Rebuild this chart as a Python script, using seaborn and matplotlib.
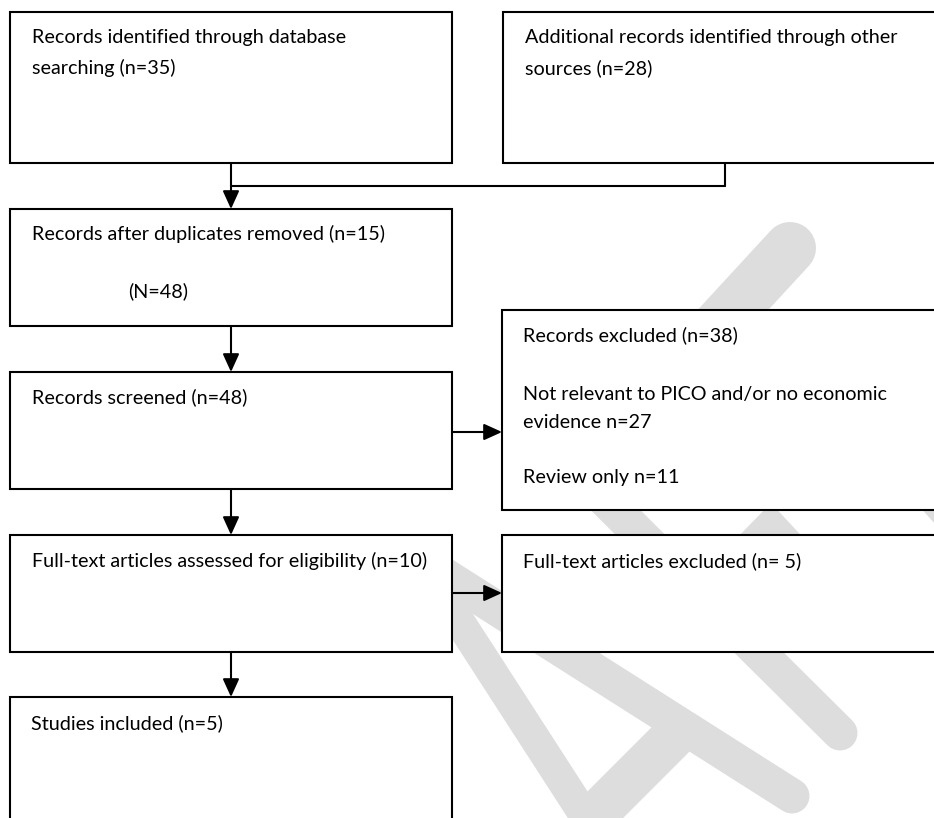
import matplotlib
matplotlib.use("Agg")
import matplotlib.pyplot as plt
import seaborn as sns
import pandas as pd
from matplotlib.patches import Rectangle, Polygon

# record counts at each stage of the review
n_database = 35
n_other = 28
n_dedup = 15
n_dedup_total = 48
n_screened = 48
n_excluded = 38
n_not_relevant = 27
n_review_only = 11
n_fulltext = 10
n_fulltext_excluded = 5
n_included = 5

box_names = ["database", "other", "dedup", "screened", "excluded",
             "fulltext", "ft_excluded", "included"]
box_lines = {
    "database": ["Records identified through database", f"searching (n={n_database})"],
    "other": ["Additional records identified through other", f"sources (n={n_other})"],
    "dedup": [f"Records after duplicates removed (n={n_dedup})", f"(N={n_dedup_total})"],
    "screened": [f"Records screened (n={n_screened})"],
    "excluded": [f"Records excluded (n={n_excluded})",
                 "Not relevant to PICO and/or no economic",
                 f"evidence n={n_not_relevant}",
                 f"Review only n={n_review_only}"],
    "fulltext": [f"Full-text articles assessed for eligibility (n={n_fulltext})"],
    "ft_excluded": [f"Full-text articles excluded (n= {n_fulltext_excluded})"],
    "included": [f"Studies included (n={n_included})"],
}

# layout in pixel units (x0, y0, x1, y1), y grows downwards
W, H = 934, 818
boxes = {
    "database": (10, 12, 452, 163),
    "other": (503, 12, 940, 163),
    "dedup": (10, 209, 452, 326),
    "screened": (10, 372, 452, 489),
    "excluded": (502, 310, 940, 510),
    "fulltext": (10, 535, 452, 652),
    "ft_excluded": (502, 535, 940, 652),
    "included": (10, 697, 452, 840),
}
# (x offset, baseline offset from box top) for each text line
line_pos = {
    "database": [(22, 31), (22, 62)],
    "other": [(22, 31), (22, 62)],
    "dedup": [(22, 31), (118, 88)],
    "screened": [(22, 31)],
    "excluded": [(21, 31), (21, 90), (21, 118), (21, 173)],
    "fulltext": [(22, 32)],
    "ft_excluded": [(21, 32)],
    "included": [(21, 32)],
}

sns.set_theme(style="white")
plt.rcParams["font.family"] = ["Lato", "DejaVu Sans"]

fig = plt.figure(figsize=(W / 100, H / 100), dpi=100)
ax = fig.add_axes([0, 0, 1, 1])

px = 0.72  # points per pixel at 100 dpi
wm = "#dddddd"

# watermark strokes (partly hidden by the boxes)
strokes = [
    ((790, 248), (650, 400), 52, "round"),
    ((560, 455), (840, 733), 35, "round"),
    ((419, 559), (605, 847), 31, "round"),
    ((419, 559), (792, 796), 35, "round"),
    ((684, 726), (580, 830), 44, "butt"),
]
for (x0, y0), (x1, y1), w, cap in strokes:
    ax.plot([x0, x1], [y0, y1], color=wm, lw=w * px, solid_capstyle=cap, zorder=1)
ax.add_patch(Polygon([(771, 503), (810, 545), (730, 545)], closed=True, color=wm, lw=0, zorder=1))
ax.add_patch(Polygon([(918, 505), (945, 505), (945, 535)], closed=True, color=wm, lw=0, zorder=1))

# boxes and their text
for name in box_names:
    x0, y0, x1, y1 = boxes[name]
    ax.add_patch(Rectangle((x0, y0), x1 - x0, y1 - y0, facecolor="white",
                           edgecolor="black", lw=1.5, zorder=2))
    for (dx, dy), line in zip(line_pos[name], box_lines[name]):
        ax.text(x0 + dx, y0 + dy, line, fontsize=14.2, va="baseline", ha="left",
                color="black", zorder=4)

# elbow connector joining the two top boxes
seg = pd.DataFrame({
    "x": [231, 231, 725, 725, 231, 725],
    "y": [163, 186, 163, 186, 186, 186],
    "seg": [0, 0, 1, 1, 2, 2],
})
sns.lineplot(data=seg, x="x", y="y", units="seg", estimator=None, sort=False,
             color="black", lw=1.5, ax=ax, legend=False, zorder=3)

arrows = [
    ((231, 186), (231, 209)),
    ((231, 326), (231, 372)),
    ((231, 489), (231, 535)),
    ((231, 652), (231, 697)),
    ((452, 432), (502, 432)),
    ((452, 593), (502, 593)),
]
for start, end in arrows:
    ax.annotate("", xy=end, xytext=start,
                arrowprops=dict(arrowstyle="-|>,head_length=11,head_width=5",
                                mutation_scale=1, shrinkA=0, shrinkB=0,
                                color="black", lw=1.5), zorder=3)

ax.set_xlim(0, W)
ax.set_ylim(H, 0)
ax.axis("off")

fig.savefig("out.png", dpi=100)
